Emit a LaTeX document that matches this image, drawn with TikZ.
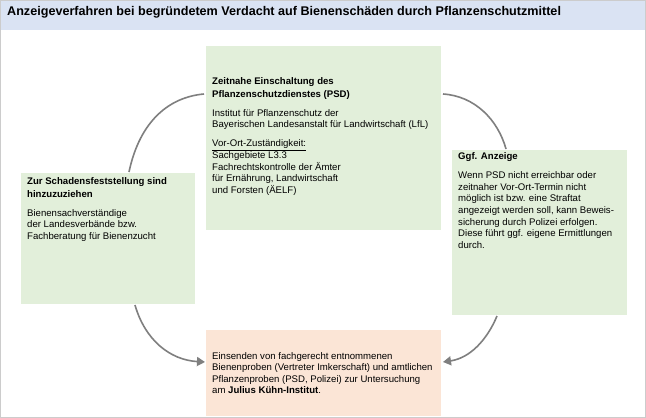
\documentclass[tikz,border=0pt]{standalone}
\usepackage{fontspec}
\setmainfont{Liberation Sans}
\usetikzlibrary{arrows.meta}
\definecolor{gbox}{HTML}{E2EFDA}
\definecolor{pbox}{HTML}{FBE5D6}
\definecolor{hdr}{HTML}{DAE3F3}
\definecolor{arr}{HTML}{7F7F7F}
\tikzset{
 box/.style={draw=none,anchor=north west,inner sep=0pt},
 txt/.style={anchor=north west,inner sep=0pt,align=left,font=\fontsize{9.6}{11.6}\selectfont},
 conn/.style={draw=arr,line width=1.6pt},
 tip/.style={-{Triangle[length=8pt,width=9pt]}}
}
\begin{document}
\begin{tikzpicture}[x=1pt,y=-1pt]
\useasboundingbox (0,0) rectangle (646,418);
\draw[draw=black!20,fill=white] (0.5,0.5) rectangle (645.5,417.5);
\fill[hdr] (1,1) rectangle (645,30);
\node[txt,font=\fontsize{12.6}{14}\selectfont\bfseries] (title) at (7,6) {Anzeigeverfahren bei begründetem Verdacht auf Bienenschäden durch Pflanzenschutzmittel};
\node[box,fill=gbox,minimum width=235pt,minimum height=184pt] (top) at (206,46) {};
\node[box,fill=gbox,minimum width=174pt,minimum height=131pt] (left) at (21,173) {};
\node[box,fill=gbox,minimum width=175pt,minimum height=165pt] (right) at (452,150) {};
\node[box,fill=pbox,minimum width=235pt,minimum height=86pt] (bot) at (206,330) {};
\node[txt] (ttop) at (212,77) {\textbf{Zeitnahe Einschaltung des}\\[2pt]\textbf{Pflanzenschutzdienstes (PSD)}\\[7pt]Institut für Pflanzenschutz der\\Bayerischen Landesanstalt für Landwirtschaft (LfL)\\[7pt]\underline{Vor-Ort-Zuständigkeit:}\\[0.5pt]Sachgebiete L3.3\\Fachrechtskontrolle der Ämter\\für Ernährung, Landwirtschaft\\und Forsten (ÄELF)};
\node[txt] (tleft) at (27,177) {\textbf{Zur Schadensfeststellung sind}\\[2pt]\textbf{hinzuzuziehen}\\[7pt]Bienensachverständige\\der Landesverbände bzw.\\Fachberatung für Bienenzucht};
\node[txt] (tright) at (458,152) {\textbf{Ggf. Anzeige}\\[8pt]Wenn PSD nicht erreichbar oder\\zeitnaher Vor-Ort-Termin nicht\\möglich ist bzw. eine Straftat\\angezeigt werden soll, kann Beweis-\\sicherung durch Polizei erfolgen.\\Diese führt ggf. eigene Ermittlungen\\durch.};
\node[txt] (tbot) at (212,352) {Einsenden von fachgerecht entnommenen\\Bienenproben (Vertreter Imkerschaft) und amtlichen\\Pflanzenproben (PSD, Polizei) zur Untersuchung\\am \textbf{Julius Kühn-Institut}.};
\coordinate (a1) at (129,172);
\coordinate (a2) at (204,94);
\coordinate (b1) at (443,94);
\coordinate (b2) at (506,149);
\coordinate (c1) at (135,305);
\coordinate (c2) at (205,362);
\coordinate (d1) at (497,316);
\coordinate (d2) at (443,362);
\draw[conn] (a1) .. controls (140,120) and (170,97) .. (a2);
\draw[conn] (b1) .. controls (475,96) and (498,120) .. (b2);
\draw[conn,tip] (c1) .. controls (145,340) and (170,360) .. (c2);
\draw[conn,tip] (d1) .. controls (487,340) and (470,358) .. (d2);
\end{tikzpicture}
\end{document}
